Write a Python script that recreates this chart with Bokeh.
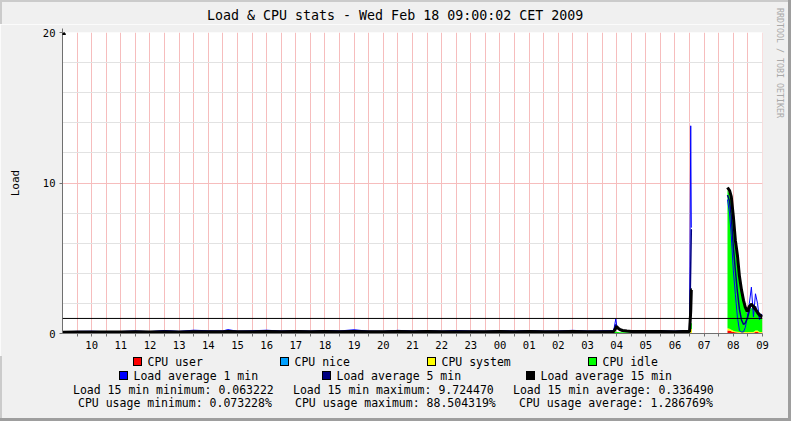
import numpy as np
from bokeh.plotting import figure
from bokeh.layouts import row, column
from bokeh.models import Range1d, FixedTicker, Span, Arrow, NormalHead, Div
from bokeh.embed import file_html
from bokeh.resources import INLINE

W, H = 791, 421
TITLE_H, PLOT_H, LEG_H = 24, 332, 65
PLOT_W, SIDE_W = 770, 21
FONT = "DejaVu Sans Mono"

title = "Load & CPU stats - Wed Feb 18 09:00:02 CET 2009"
y_label = "Load"
watermark = "RRDTOOL / TOBI OETIKER"

x_start = 9.0 + 2 / 3600
x_end = 33.0 + 2 / 3600
hour_ticks = list(range(10, 34))
hour_labels = ["10", "11", "12", "13", "14", "15", "16", "17", "18", "19", "20", "21",
               "22", "23", "00", "01", "02", "03", "04", "05", "06", "07", "08", "09"]
half_hour_ticks = [h + 0.5 for h in range(9, 33)]
y_ticks = [0, 10, 20]
y_minor = [2, 4, 6, 8, 12, 14, 16, 18]
threshold = 1.0
nan = float("nan")

# time (hour of day, continuing past midnight)
t = [9.0, 9.5, 10.0, 10.5, 11.0, 11.5, 12.0, 12.5, 13.0, 13.5, 14.0, 14.5, 14.67,
     15.0, 15.5, 16.0, 16.5, 17.0, 17.5, 18.0, 18.5, 19.0, 19.5, 20.0, 20.5,
     21.0, 21.5, 22.0, 22.5, 23.0, 23.5, 24.0, 24.5, 25.0, 25.5, 26.0, 26.5, 27.0,
     27.5, 27.9, 27.97, 28.0, 28.05, 28.1, 28.2, 28.35, 28.5, 29.0, 29.5, 30.0,
     30.3, 30.5, 30.54, 30.56, 30.58, 30.6,
     31.80, 31.87, 31.93, 32.00, 32.07, 32.14, 32.21, 32.28, 32.35, 32.41, 32.48,
     32.55, 32.62, 32.69, 32.76, 32.83, 32.90, 32.96, 33.0]
load1 = [0.12, 0.14, 0.15, 0.12, 0.13, 0.16, 0.12, 0.2, 0.14, 0.22, 0.18, 0.17, 0.26,
         0.15, 0.18, 0.22, 0.16, 0.19, 0.15, 0.2, 0.17, 0.25, 0.15, 0.14, 0.21,
         0.16, 0.18, 0.15, 0.2, 0.16, 0.14, 0.18, 0.16, 0.2, 0.15, 0.17, 0.21, 0.16,
         0.18, 0.2, 0.97, 0.55, 0.4, 0.3, 0.22, 0.18, 0.16, 0.15, 0.17, 0.15,
         0.2, 0.18, 13.8, 7.06, 7.06, nan,
         8.9, 8.0, 6.5, 4.2, 2.6, 1.1, 0.2, 0.1, 0.1, 0.4, 1.1,
         2.0, 3.08, 1.1, 2.64, 2.0, 0.9, 1.3, 1.2]
load5 = [0.1, 0.12, 0.12, 0.11, 0.12, 0.13, 0.11, 0.15, 0.12, 0.16, 0.14, 0.14, 0.18,
         0.13, 0.14, 0.16, 0.14, 0.15, 0.13, 0.15, 0.14, 0.17, 0.13, 0.13, 0.16,
         0.14, 0.15, 0.13, 0.15, 0.14, 0.13, 0.15, 0.14, 0.15, 0.13, 0.14, 0.16, 0.14,
         0.15, 0.16, 0.6, 0.45, 0.35, 0.28, 0.2, 0.16, 0.14, 0.13, 0.14, 0.13,
         0.15, 0.15, 4.5, 6.9, 6.9, nan,
         9.2, 8.8, 7.8, 5.8, 4.2, 2.8, 1.6, 0.9, 0.6, 0.7, 1.0,
         1.5, 2.0, 1.6, 1.8, 1.3, 1.1, 1.2, 1.2]
load15 = [0.09, 0.1, 0.1, 0.1, 0.1, 0.11, 0.1, 0.11, 0.1, 0.12, 0.11, 0.11, 0.13,
          0.12, 0.12, 0.13, 0.12, 0.13, 0.12, 0.13, 0.12, 0.13, 0.12, 0.12, 0.13,
          0.12, 0.13, 0.12, 0.12, 0.12, 0.12, 0.13, 0.12, 0.13, 0.12, 0.12, 0.13, 0.12,
          0.12, 0.13, 0.35, 0.46, 0.35, 0.28, 0.2, 0.16, 0.14, 0.13, 0.13, 0.12,
          0.13, 0.13, 1.5, 2.9, 2.9, nan,
          9.7, 9.5, 9.1, 7.8, 6.2, 5.2, 3.8, 2.9, 2.2, 1.75, 1.45,
          1.8, 1.95, 1.8, 1.6, 1.4, 1.25, 1.15, 1.1]
cpu_user = [0.01, 0.01, 0.01, 0.01, 0.01, 0.01, 0.01, 0.01, 0.01, 0.01, 0.01, 0.01, 0.01,
            0.01, 0.01, 0.01, 0.01, 0.01, 0.01, 0.01, 0.01, 0.01, 0.01, 0.01, 0.01,
            0.01, 0.01, 0.01, 0.01, 0.01, 0.01, 0.01, 0.01, 0.01, 0.01, 0.01, 0.01, 0.01,
            0.01, 0.01, 0.02, 0.02, 0.01, 0.01, 0.01, 0.01, 0.01, 0.01, 0.01, 0.01,
            0.01, 0.01, 0.05, 0.05, 0.05, nan,
            0.2, 0.2, 0.15, 0.1, 0.08, 0.06, 0.05, 0.05, 0.05, 0.05, 0.05,
            0.05, 0.05, 0.05, 0.1, 0.1, 0.05, 0.05, 0.05]
cpu_nice = [0.0, 0.0, 0.0, 0.0, 0.0, 0.0, 0.0, 0.0, 0.0, 0.0, 0.0, 0.0, 0.0,
            0.0, 0.0, 0.0, 0.0, 0.0, 0.0, 0.0, 0.0, 0.0, 0.0, 0.0, 0.0,
            0.0, 0.0, 0.0, 0.0, 0.0, 0.0, 0.0, 0.0, 0.0, 0.0, 0.0, 0.0, 0.0,
            0.0, 0.0, 0.0, 0.0, 0.0, 0.0, 0.0, 0.0, 0.0, 0.0, 0.0, 0.0,
            0.0, 0.0, 0.0, 0.0, 0.0, nan,
            0.0, 0.0, 0.0, 0.0, 0.0, 0.0, 0.0, 0.0, 0.0, 0.0, 0.0,
            0.0, 0.0, 0.0, 0.0, 0.0, 0.0, 0.0, 0.0]
cpu_system = [0.01, 0.01, 0.01, 0.01, 0.01, 0.01, 0.01, 0.01, 0.01, 0.01, 0.01, 0.01, 0.01,
              0.01, 0.01, 0.01, 0.01, 0.01, 0.01, 0.01, 0.01, 0.01, 0.01, 0.01, 0.01,
              0.01, 0.01, 0.01, 0.01, 0.01, 0.01, 0.01, 0.01, 0.01, 0.01, 0.01, 0.01, 0.01,
              0.01, 0.01, 0.02, 0.02, 0.01, 0.01, 0.01, 0.01, 0.01, 0.01, 0.01, 0.01,
              0.01, 0.01, 0.2, 0.25, 0.25, nan,
              0.15, 0.12, 0.1, 0.08, 0.06, 0.05, 0.05, 0.05, 0.05, 0.05, 0.05,
              0.05, 0.05, 0.05, 0.1, 0.1, 0.05, 0.05, 0.05]
cpu_idle = [0.02, 0.02, 0.02, 0.02, 0.02, 0.02, 0.02, 0.02, 0.02, 0.02, 0.02, 0.02, 0.06,
            0.06, 0.06, 0.06, 0.06, 0.06, 0.06, 0.06, 0.06, 0.06, 0.06, 0.06, 0.06,
            0.06, 0.06, 0.06, 0.06, 0.06, 0.06, 0.06, 0.06, 0.06, 0.06, 0.06, 0.06, 0.06,
            0.07, 0.08, 0.08, 0.08, 0.08, 0.07, 0.07, 0.07, 0.07, 0.07, 0.07, 0.07,
            0.07, 0.07, 0.3, 0.4, 0.4, nan,
            9.2, 8.9, 8.4, 7.0, 5.6, 4.5, 3.3, 2.5, 1.9, 1.5, 1.2,
            1.4, 1.6, 1.5, 1.3, 1.1, 1.0, 0.9, 0.9]

legend_row1 = [("CPU user", 133, "#FF0000"), ("CPU nice", 280, "#00A0FF"),
               ("CPU system", 427, "#FFFF00"), ("CPU idle", 588, "#00FF00")]
legend_row2 = [("Load average 1 min", 119, "#0000FF"), ("Load average 5 min", 322, "#000080"),
               ("Load average 15 min", 526, "#000000")]
stats_row1 = [("Load 15 min minimum: 0.063222", 73), ("Load 15 min maximum: 9.724470", 293),
              ("Load 15 min average: 0.336490", 513)]
stats_row2 = [("CPU usage minimum: 0.073228%", 78), ("CPU usage maximum: 88.504319%", 295),
              ("CPU usage average: 1.286769%", 519)]

# ---------------- chart ----------------
p = figure(width=PLOT_W, height=PLOT_H, output_backend="svg", toolbar_location=None,
           x_range=Range1d(x_start, x_end), y_range=Range1d(0, 20),
           min_border_left=62, min_border_right=PLOT_W - 762, min_border_top=32 - TITLE_H,
           min_border_bottom=TITLE_H + PLOT_H - 333,
           background_fill_color="white", border_fill_color="#F0F0F0", outline_line_color=None)

GRID_RED = "#F6BDBD"
p.xaxis.ticker = FixedTicker(ticks=hour_ticks, minor_ticks=half_hour_ticks)
p.xaxis.major_label_overrides = {h: lab for h, lab in zip(hour_ticks, hour_labels)}
p.yaxis.ticker = FixedTicker(ticks=y_ticks, minor_ticks=y_minor)
p.xgrid.grid_line_color = GRID_RED
p.xgrid.minor_grid_line_color = GRID_RED
p.ygrid.grid_line_color = GRID_RED
p.ygrid.minor_grid_line_color = "#E2E2E2"

for ax in (p.xaxis[0], p.yaxis[0]):
    ax.axis_line_color = "#707070"
    ax.major_tick_line_color = "#707070"
    ax.minor_tick_line_color = "#707070"
    ax.major_tick_in = 0
    ax.minor_tick_in = 0
    ax.major_tick_out = 3
    ax.minor_tick_out = 3
    ax.major_label_text_font = FONT
    ax.major_label_text_font_size = "10.5px"
    ax.major_label_text_color = "black"
    ax.major_label_standoff = 4
p.yaxis.minor_tick_out = 0
p.yaxis.axis_label = y_label
p.yaxis.axis_label_text_font = FONT
p.yaxis.axis_label_text_font_size = "11px"
p.yaxis.axis_label_text_font_style = "normal"
p.yaxis.axis_label_text_color = "black"
p.yaxis.axis_label_standoff = 18

tt = np.array(t, dtype=float)


def segments(arr):
    bad = np.isnan(arr)
    segs = []
    start = None
    for i in range(len(arr)):
        if not bad[i] and start is None:
            start = i
        if (bad[i] or i == len(arr) - 1) and start is not None:
            end = i if bad[i] else i + 1
            segs.append((start, end))
            start = None
    return segs


stack_series = [cpu_user, cpu_nice, cpu_system, cpu_idle]
stack_colors = ["#FF0000", "#00A0FF", "#FFFF00", "#00FF00"]
base = np.zeros(len(tt))
for s, c in zip(stack_series, stack_colors):
    arr = np.array(s, dtype=float)
    top = base + arr
    for a, b in segments(arr):
        p.varea(x=tt[a:b], y1=base[a:b], y2=top[a:b], fill_color=c, fill_alpha=1)
    base = np.where(np.isnan(top), 0, top)

p.line(tt, np.array(load1, dtype=float), line_color="#0000FF", line_width=1)
p.line(tt, np.array(load5, dtype=float), line_color="#000080", line_width=1.5)
p.line(tt, np.array(load15, dtype=float), line_color="#000000", line_width=3)

p.add_layout(Span(location=threshold, dimension="width", line_color="black", line_width=1))

px_h = (x_end - x_start) / 700
p.add_layout(Arrow(x_start=x_start, y_start=20, x_end=x_start, y_end=20 + 4 * 20 / 301,
                   line_color="#707070", line_width=1,
                   end=NormalHead(size=6, fill_color="black", line_color="black")))

# ---------------- html parts (title, watermark, legend) ----------------
TXT = f"font-family:'{FONT}';white-space:pre;position:absolute;"


def text_span(s, x, yc, size, lh, color="black"):
    return (f"<div style=\"{TXT}left:{x}px;top:{yc - lh / 2}px;font-size:{size}px;"
            f"line-height:{lh}px;color:{color};\">{s}</div>")


def box_span(x, y, w, h, color, border=False):
    b = "border:1px solid #000;box-sizing:border-box;" if border else ""
    return (f"<div style=\"position:absolute;left:{x}px;top:{y}px;width:{w}px;height:{h}px;"
            f"background:{color};{b}\"></div>")


def wrap(inner, w, h):
    return (f"<div style=\"position:relative;width:{w}px;height:{h}px;overflow:hidden;"
            f"background:#F0F0F0;margin:0;padding:0;\">{inner}</div>")


title_html = (box_span(0, 0, PLOT_W, 2, "#CBCBCB") + box_span(0, 0, 2, TITLE_H, "#CBCBCB")
              + text_span(title.replace("&", "&amp;"), 207, 16, 13.3, 16))
title_div = Div(text=wrap(title_html, PLOT_W, TITLE_H), width=PLOT_W, height=TITLE_H,
                margin=0)

y0 = TITLE_H + PLOT_H
leg_html = box_span(0, 0, 2, LEG_H, "#CBCBCB") + box_span(0, LEG_H - 3, PLOT_W, 3, "#9E9E9E")
for name, x0, c in legend_row1:
    leg_html += box_span(x0, 357 - y0, 9, 9, c, border=True)
    leg_html += text_span(name, x0 + 14.5, 361.5 - y0, 11.5, 14)
for name, x0, c in legend_row2:
    leg_html += box_span(x0, 371 - y0, 9, 9, c, border=True)
    leg_html += text_span(name, x0 + 14.5, 375.5 - y0, 11.5, 14)
for s, x0 in stats_row1:
    leg_html += text_span(s, x0, 389.5 - y0, 11.5, 14)
for s, x0 in stats_row2:
    leg_html += text_span(s, x0, 403 - y0, 11.5, 14)
legend_div = Div(text=wrap(leg_html, PLOT_W, LEG_H), width=PLOT_W, height=LEG_H, margin=0)

side_html = (box_span(0, 0, SIDE_W, 2, "#CBCBCB") + box_span(SIDE_W - 3, 0, 3, H, "#9E9E9E")
             + box_span(0, H - 3, SIDE_W, 3, "#9E9E9E")
             + f"<div style=\"position:absolute;left:5px;top:8px;writing-mode:vertical-rl;"
               f"font-family:'{FONT}';font-size:8.3px;line-height:10px;color:#A8A8A8;"
               f"white-space:pre;\">{watermark}</div>")
side_div = Div(text=wrap(side_html, SIDE_W, H), width=SIDE_W, height=H, margin=0)

layout = row(column(title_div, p, legend_div, spacing=0), side_div, spacing=0)

open("out.html", "w").write(file_html(layout, INLINE))
